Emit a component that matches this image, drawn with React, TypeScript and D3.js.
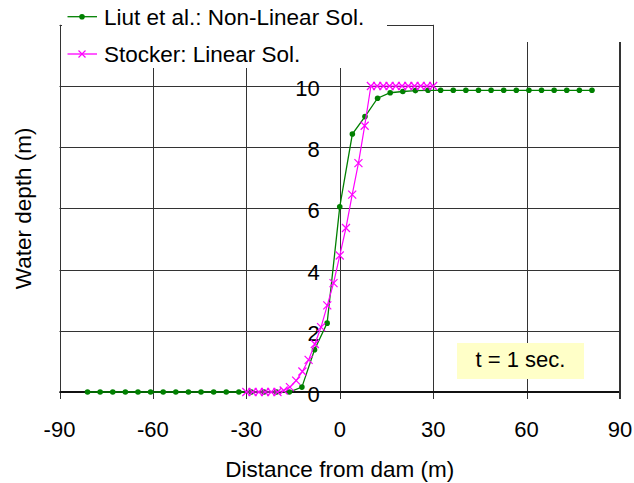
import React, { useRef, useEffect } from 'react';
import * as d3 from 'd3';

// Liut et al. non-linear solution (green)
const liutX = [
  -81, -76.95, -72.9, -68.85, -64.8, -60.75, -56.7, -52.65, -48.6, -44.55, -40.5,
  -36.45, -32.4, -28.35, -24.3, -20.25, -16.2, -12.15, -8.1, -4.05, 0,
  4.05, 8.1, 12.15, 16.2, 20.25, 24.3, 28.35, 32.4, 36.45, 40.5,
  44.55, 48.6, 52.65, 56.7, 60.75, 64.8, 68.85, 72.9, 76.95, 81,
];
const liutY = [
  0, 0, 0, 0, 0, 0, 0, 0, 0, 0, 0,
  0, 0, 0, 0, 0, 0, 0.16, 1.38, 2.25, 6.05,
  8.43, 9.0, 9.6, 9.78, 9.82, 9.85, 9.86, 9.86, 9.86, 9.86,
  9.86, 9.86, 9.86, 9.86, 9.86, 9.86, 9.86, 9.86, 9.86, 9.86,
];

// Stocker linear solution (magenta)
const stockerX = [
  -30, -28, -26, -24, -22, -20, -18, -16, -14, -12, -10,
  -8, -6, -4, -2, 0, 2, 4, 6, 8, 10,
  12, 14, 16, 18, 20, 22, 24, 26, 28, 30,
];
const stockerY = [
  0, 0, 0, 0, 0, 0, 0.05, 0.16, 0.37, 0.67, 1.05,
  1.57, 2.12, 2.83, 3.56, 4.46, 5.36, 6.45, 7.48, 8.7, 10,
  10, 10, 10, 10, 10, 10, 10, 10, 10, 10,
];

const xTicks = [-90, -60, -30, 0, 30, 60, 90];
const yTicks = [0, 2, 4, 6, 8, 10, 12];
const yLabels = [0, 2, 4, 6, 8, 10];

const FONT = '"Liberation Sans", Arial, sans-serif';

const App = () => {
  const svgRef = useRef<SVGSVGElement>(null);

  useEffect(() => {
    const svg = d3.select(svgRef.current);
    svg.selectAll('*').remove();

    const x = d3.scaleLinear().domain([-90, 90]).range([59.5, 620]);
    const y = d3.scaleLinear().domain([0, 12]).range([392, 24.8]);

    const g = svg.append('g');

    // grid lines
    g.selectAll('.vgrid')
      .data(xTicks)
      .enter().append('line')
      .attr('x1', d => Math.round(x(d)) + 0.5)
      .attr('x2', d => Math.round(x(d)) + 0.5)
      .attr('y1', y(12))
      .attr('y2', y(0) + 7)
      .attr('stroke', '#333')
      .attr('stroke-width', 1);

    g.selectAll('.hgrid')
      .data(yTicks)
      .enter().append('line')
      .attr('x1', x(-90))
      .attr('x2', x(90))
      .attr('y1', d => Math.round(y(d)) + 0.5)
      .attr('y2', d => Math.round(y(d)) + 0.5)
      .attr('stroke', '#333')
      .attr('stroke-width', 1);

    // x axis and right border heavier
    g.append('line')
      .attr('x1', x(-90)).attr('x2', x(90))
      .attr('y1', y(0)).attr('y2', y(0))
      .attr('stroke', '#111').attr('stroke-width', 2);
    g.append('line')
      .attr('x1', x(90)).attr('x2', x(90))
      .attr('y1', y(12)).attr('y2', y(0) + 7)
      .attr('stroke', '#333').attr('stroke-width', 2);

    // white patch over the top right corner, as in the original figure
    g.append('rect')
      .attr('x', Math.round(x(30)) + 1).attr('y', 0)
      .attr('width', 634).attr('height', 42)
      .attr('fill', '#fff');

    // y tick labels sit beside the axis at x = 0
    g.selectAll('.ylab')
      .data(yLabels)
      .enter().append('text')
      .attr('x', x(0) - 20)
      .attr('y', d => y(d) + 10)
      .attr('text-anchor', 'end')
      .style('font-family', FONT)
      .style('font-size', '22px')
      .text(d => d);

    g.selectAll('.xlab')
      .data(xTicks)
      .enter().append('text')
      .attr('x', d => x(d))
      .attr('y', 437)
      .attr('text-anchor', 'middle')
      .style('font-family', FONT)
      .style('font-size', '22px')
      .text(d => d);

    // series
    const liut = liutX.map((v, i) => ({ x: v, y: liutY[i] }));
    const stocker = stockerX.map((v, i) => ({ x: v, y: stockerY[i] }));
    const line = d3.line<{ x: number; y: number }>()
      .x(d => x(d.x))
      .y(d => y(d.y));

    g.append('path')
      .datum(liut)
      .attr('fill', 'none')
      .attr('stroke', '#008000')
      .attr('stroke-width', 1.3)
      .attr('d', line);
    g.selectAll('.dot')
      .data(liut)
      .enter().append('circle')
      .attr('cx', d => x(d.x))
      .attr('cy', d => y(d.y))
      .attr('r', 2.8)
      .attr('fill', '#008000');

    g.append('path')
      .datum(stocker)
      .attr('fill', 'none')
      .attr('stroke', '#ff00ff')
      .attr('stroke-width', 1.2)
      .attr('d', line);
    const s = 4;
    g.selectAll('.cross')
      .data(stocker)
      .enter().append('path')
      .attr('d', d => {
        const cx = x(d.x), cy = y(d.y);
        return `M${cx - s},${cy - s}L${cx + s},${cy + s}M${cx - s},${cy + s}L${cx + s},${cy - s}`;
      })
      .attr('stroke', '#ff00ff')
      .attr('stroke-width', 1.2)
      .attr('fill', 'none');

    // legend (covers top-left of plot)
    const leg = svg.append('g');
    leg.append('rect')
      .attr('x', 62).attr('y', 0)
      .attr('width', 325).attr('height', 68)
      .attr('fill', '#fff');
    const items = [
      { label: 'Liut et al.: Non-Linear Sol.', color: '#008000', kind: 'dot', cy: 16.7 },
      { label: 'Stocker: Linear Sol.', color: '#ff00ff', kind: 'cross', cy: 54 },
    ];
    items.forEach(it => {
      leg.append('line')
        .attr('x1', 67.5).attr('x2', 97)
        .attr('y1', it.cy).attr('y2', it.cy)
        .attr('stroke', it.color).attr('stroke-width', 1.3);
      if (it.kind === 'dot') {
        leg.append('circle').attr('cx', 82).attr('cy', it.cy).attr('r', 2.8).attr('fill', it.color);
      } else {
        leg.append('path')
          .attr('d', `M${82 - 3.5},${it.cy - 3.5}L${82 + 3.5},${it.cy + 3.5}M${82 - 3.5},${it.cy + 3.5}L${82 + 3.5},${it.cy - 3.5}`)
          .attr('stroke', it.color).attr('stroke-width', 1.2);
      }
      leg.append('text')
        .attr('x', 104)
        .attr('y', it.cy + 8.3)
        .style('font-family', FONT)
        .style('font-size', '22.5px')
        .text(it.label);
    });

    // time annotation
    svg.append('rect')
      .attr('x', 457).attr('y', 343)
      .attr('width', 127).attr('height', 36)
      .attr('fill', '#ffffc8');
    svg.append('text')
      .attr('x', 520.5).attr('y', 367)
      .attr('text-anchor', 'middle')
      .style('font-family', FONT)
      .style('font-size', '22px')
      .text('t = 1 sec.');

    // axis titles
    svg.append('text')
      .attr('x', x(0))
      .attr('y', 477)
      .attr('text-anchor', 'middle')
      .style('font-family', FONT)
      .style('font-size', '22.5px')
      .text('Distance from dam (m)');
    svg.append('text')
      .attr('transform', `translate(31,${(y(0) + y(12)) / 2}) rotate(-90)`)
      .attr('text-anchor', 'middle')
      .style('font-family', FONT)
      .style('font-size', '22.5px')
      .text('Water depth (m)');
  }, []);

  return (
    <svg
      ref={svgRef}
      width={634}
      height={483}
      style={{ position: 'absolute', left: 0, top: 0, background: '#fff' }}
    />
  );
};

export default App;
